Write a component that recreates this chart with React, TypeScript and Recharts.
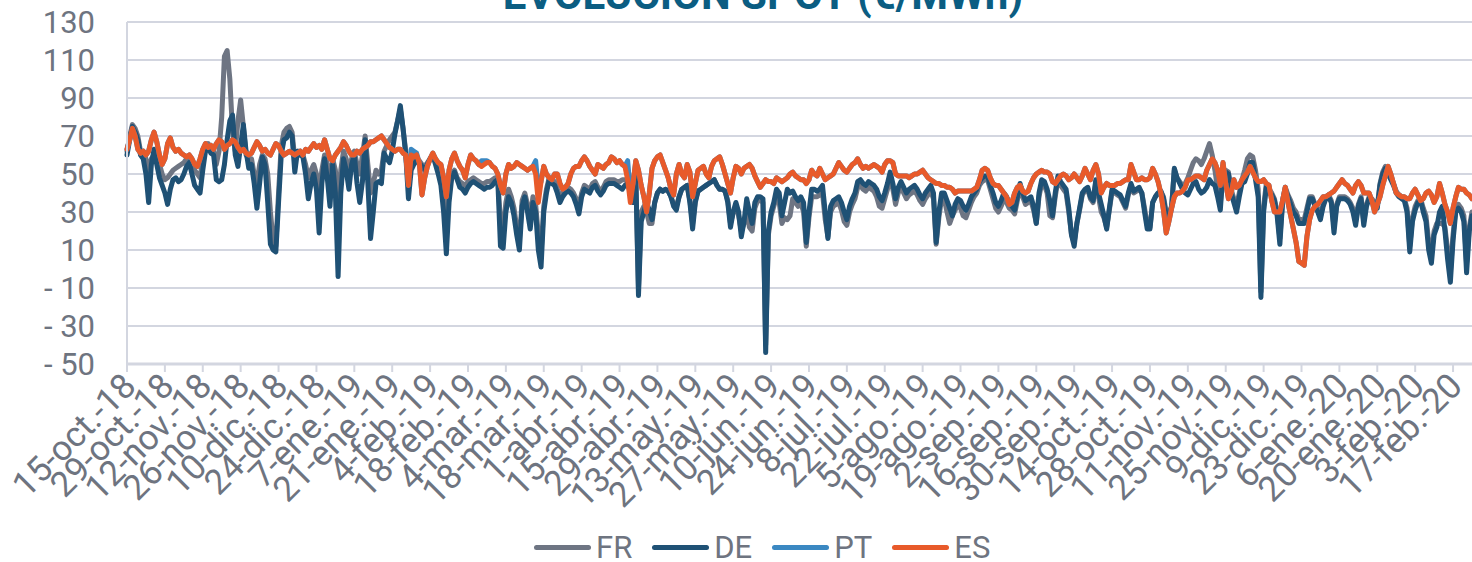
import { LineChart, Line, CartesianGrid, XAxis, YAxis } from 'recharts';

const ES = [
  63, 68, 74, 70, 63, 61, 62, 60, 62, 68,
  72, 67, 60, 55, 58, 66, 69, 64, 62, 63,
  61, 60, 59, 60, 58, 55, 54, 58, 63, 66,
  64, 65, 63, 66, 68, 67, 63, 65, 66, 68,
  67, 64, 62, 63, 61, 60, 61, 64, 67, 65,
  62, 63, 61, 60, 63, 66, 65, 62, 60, 61,
  62, 61, 60, 61, 62, 60, 63, 62, 64, 66,
  64, 65, 63, 68, 63, 58, 57, 60, 62, 64,
  67, 65, 62, 60, 60, 62, 61, 63, 64, 65,
  67, 67, 68, 69, 70, 68, 66, 64, 63, 62,
  63, 63, 61, 60, 44, 60, 59, 60, 56, 39,
  48, 54, 58, 61, 58, 56, 55, 48, 38, 52,
  58, 61, 57, 54, 52, 48, 55, 60, 58, 57,
  55, 54, 55, 56, 56, 54, 53, 50, 44, 40,
  50, 55, 53, 54, 56, 55, 54, 53, 52, 53,
  54, 50, 35, 46, 54, 50, 48, 47, 50, 50,
  45, 42, 43, 45, 50, 53, 54, 54, 57, 59,
  57, 54, 52, 50, 55, 54, 53, 55, 56, 59,
  58, 56, 57, 55, 54, 47, 35, 45, 57, 52,
  44, 38, 30, 40, 53, 57, 59, 60, 56, 52,
  48, 42, 39, 50, 55, 50, 48, 55, 51, 38,
  45, 52, 53, 54, 50, 48, 54, 57, 58, 59,
  55, 50, 45, 40, 48, 54, 53, 50, 53, 54,
  55, 53, 49, 46, 43, 45, 47, 46, 46, 45,
  48, 47, 46, 47, 48, 50, 51, 49, 48, 47,
  47, 45, 47, 52, 50, 49, 53, 50, 47, 48,
  49, 50, 53, 56, 54, 52, 51, 53, 55, 56,
  58, 55, 53, 54, 53, 54, 55, 54, 53, 51,
  55, 57, 57, 56, 50, 49, 49, 49, 49, 48,
  49, 50, 50, 51, 52, 50, 48, 47, 46, 45,
  45, 44, 44, 43, 43, 42, 40, 41, 41, 41,
  41, 41, 41, 42, 43, 47, 52, 53, 52, 48,
  45, 44, 44, 42, 40, 38, 34, 35, 40, 43,
  44, 41, 40, 41, 45, 48, 50, 51, 52, 51,
  51, 50, 46, 45, 47, 49, 50, 49, 47, 48,
  50, 48, 46, 49, 53, 50, 47, 52, 55, 50,
  40, 43, 45, 44, 44, 44, 45, 45, 46, 47,
  47, 55, 51, 47, 47, 48, 47, 47, 48, 53,
  50, 46, 40, 31, 19, 25, 32, 38, 40, 40,
  41, 43, 47, 47, 48, 49, 49, 48, 47, 52,
  55, 58, 56, 52, 44, 56, 45, 37, 40, 47,
  43, 44, 47, 49, 51, 54, 51, 48, 46, 46,
  47, 45, 44, 36, 30, 30, 30, 36, 43, 35,
  28, 21, 14, 4, 3, 2, 17, 26, 31, 33,
  34, 36, 38, 38, 39, 40, 41, 43, 45, 47,
  45, 44, 42, 40, 44, 46, 44, 40, 40, 40,
  36, 30, 34, 38, 44, 49, 54, 50, 45, 40,
  39, 38, 38, 37, 37, 40, 42, 39, 36, 37,
  40, 41, 39, 35, 38, 45, 40, 34, 30, 24,
  32, 38, 43, 42, 42, 40, 39, 37,
];

const PT = [
  63, 68, 74, 70, 63, 61, 62, 60, 62, 68,
  72, 67, 60, 55, 58, 66, 69, 64, 62, 63,
  61, 60, 59, 60, 58, 55, 54, 58, 63, 66,
  64, 65, 63, 66, 68, 67, 63, 65, 66, 68,
  67, 64, 62, 63, 61, 60, 61, 64, 67, 65,
  62, 63, 61, 60, 63, 66, 65, 62, 60, 61,
  62, 61, 60, 61, 62, 60, 63, 62, 64, 66,
  64, 65, 63, 68, 63, 58, 57, 60, 62, 64,
  67, 65, 62, 60, 60, 62, 61, 63, 64, 65,
  67, 67, 68, 69, 70, 68, 66, 64, 63, 62,
  63, 63, 61, 60, 44, 63, 62, 61, 56, 39,
  48, 54, 58, 61, 58, 56, 55, 48, 38, 52,
  58, 61, 57, 54, 52, 48, 55, 60, 58, 57,
  55, 57, 57, 57, 56, 54, 53, 50, 44, 40,
  50, 55, 53, 54, 56, 55, 54, 53, 52, 53,
  54, 57, 42, 46, 54, 50, 48, 47, 50, 50,
  45, 42, 43, 45, 50, 53, 54, 54, 57, 59,
  57, 54, 52, 50, 55, 54, 53, 55, 56, 59,
  58, 56, 57, 55, 54, 57, 40, 45, 57, 52,
  44, 38, 30, 40, 53, 57, 59, 60, 56, 52,
  48, 42, 39, 50, 55, 50, 48, 55, 51, 38,
  45, 52, 53, 54, 50, 48, 54, 57, 58, 59,
  55, 50, 45, 40, 48, 54, 53, 50, 53, 54,
  55, 53, 49, 46, 43, 45, 47, 46, 46, 45,
  48, 47, 46, 47, 48, 50, 51, 49, 48, 47,
  47, 45, 47, 52, 50, 49, 53, 50, 47, 48,
  49, 50, 53, 56, 54, 52, 51, 53, 55, 56,
  58, 55, 53, 54, 53, 54, 55, 54, 53, 51,
  55, 57, 57, 56, 50, 49, 49, 49, 49, 48,
  49, 50, 50, 51, 52, 50, 48, 47, 46, 45,
  45, 44, 44, 43, 43, 42, 40, 41, 41, 41,
  41, 41, 41, 42, 43, 47, 52, 53, 52, 48,
  45, 44, 44, 42, 40, 38, 34, 35, 40, 43,
  44, 41, 40, 41, 45, 48, 50, 51, 52, 51,
  51, 50, 46, 45, 47, 49, 50, 49, 47, 48,
  50, 48, 46, 49, 53, 50, 47, 52, 55, 50,
  40, 43, 45, 44, 44, 44, 45, 45, 46, 47,
  47, 55, 51, 47, 47, 48, 47, 47, 48, 53,
  50, 46, 40, 31, 19, 25, 32, 38, 40, 40,
  41, 43, 47, 47, 48, 49, 49, 48, 47, 52,
  55, 58, 56, 52, 44, 56, 45, 37, 40, 47,
  43, 44, 47, 49, 51, 54, 51, 48, 46, 46,
  47, 45, 44, 36, 30, 30, 30, 36, 43, 35,
  28, 21, 14, 4, 3, 2, 17, 26, 31, 33,
  34, 36, 38, 38, 39, 40, 41, 43, 45, 47,
  45, 44, 42, 40, 44, 46, 44, 40, 40, 40,
  36, 30, 34, 38, 44, 49, 54, 50, 45, 40,
  39, 38, 38, 37, 37, 40, 42, 39, 36, 37,
  40, 41, 39, 35, 38, 45, 40, 34, 30, 24,
  32, 38, 43, 42, 42, 40, 39, 37,
];

const DE = [
  60, 68, 75, 72, 68, 60, 58, 50, 35, 55,
  63, 55, 48, 44, 40, 34, 42, 47, 48, 46,
  47, 50, 54, 56, 50, 44, 42, 40, 52, 62,
  64, 61, 60, 47, 46, 47, 55, 68, 78, 81,
  60, 54, 65, 76, 62, 53, 55, 45, 32, 45,
  59, 55, 35, 13, 10, 9, 35, 60, 68, 69,
  72, 70, 51, 62, 60, 59, 50, 37, 45, 50,
  42, 19, 45, 58, 48, 33, 55, 40, -4, 40,
  58, 52, 42, 55, 60, 45, 35, 46, 68, 45,
  16, 30, 45, 46, 45, 61, 58, 56, 62, 71,
  78, 86, 74, 60, 37, 52, 55, 57, 56, 54,
  52, 55, 58, 60, 55, 50, 44, 30, 8, 35,
  48, 51, 47, 43, 42, 40, 43, 45, 46, 45,
  44, 43, 42, 43, 43, 44, 46, 47, 12, 11,
  30, 38, 35, 28, 18, 10, 33, 38, 30, 21,
  35, 30, 10, 1, 30, 40, 47, 45, 44, 40,
  35, 38, 40, 41, 40, 38, 34, 29, 38, 42,
  41, 40, 43, 44, 41, 39, 41, 44, 45, 45,
  45, 44, 43, 42, 44, 45, 40, 35, 50, -14,
  25, 30, 35, 31, 26, 35, 40, 42, 41, 42,
  41, 38, 33, 31, 38, 42, 43, 44, 35, 21,
  35, 41, 42, 43, 44, 45, 46, 47, 44, 42,
  42, 41, 35, 22, 30, 35, 30, 17, 25, 37,
  30, 24, 35, 38, 38, 37, -44, 20, 30, 35,
  42, 40, 28, 35, 42, 40, 41, 38, 36, 38,
  35, 14, 30, 42, 42, 41, 42, 44, 30, 16,
  33, 36, 37, 38, 35, 30, 26, 33, 37, 40,
  46, 47, 45, 44, 46, 45, 44, 42, 38, 36,
  40, 45, 51, 45, 37, 43, 46, 43, 40, 42,
  43, 44, 42, 39, 37, 40, 42, 44, 40, 14,
  30, 40, 40, 36, 32, 28, 34, 37, 36, 33,
  31, 34, 38, 40, 42, 46, 48, 49, 49, 44,
  40, 35, 33, 36, 40, 38, 35, 33, 31, 38,
  45, 40, 36, 37, 38, 33, 24, 40, 47, 46,
  42, 36, 28, 40, 49, 46, 44, 42, 32, 18,
  12, 24, 32, 40, 42, 43, 38, 36, 47, 40,
  34, 28, 21, 32, 42, 41, 40, 39, 36, 33,
  40, 45, 41, 42, 43, 40, 30, 21, 21, 35,
  38, 40, 41, 37, 28, 28, 32, 53, 48, 45,
  42, 40, 39, 42, 45, 46, 42, 40, 41, 43,
  47, 45, 44, 38, 31, 51, 51, 50, 40, 35,
  30, 38, 45, 46, 50, 56, 56, 47, 38, -15,
  30, 43, 40, 39, 36, 28, 13, 35, 42, 38,
  34, 30, 28, 24, 24, 24, 30, 37, 37, 33,
  30, 26, 33, 37, 38, 35, 19, 33, 37, 37,
  37, 36, 34, 30, 23, 33, 37, 23, 33, 37,
  36, 34, 32, 44, 50, 53, 50, 47, 44, 40,
  38, 37, 36, 30, 9, 25, 31, 35, 36, 30,
  25, 10, 3, 18, 22, 30, 33, 20, 5, -7,
  15, 30, 32, 30, 25, -2, 20, 28,
];

const FR = [
  62, 70, 76, 74, 70, 62, 62, 58, 52, 58,
  60, 58, 55, 50, 47, 48, 50, 52, 53, 54,
  55, 56, 58, 58, 55, 52, 50, 48, 58, 64,
  66, 64, 62, 55, 62, 80, 112, 115, 100, 72,
  62, 78, 89, 75, 60, 58, 58, 50, 45, 55,
  60, 58, 50, 30, 15, 12, 40, 65, 72, 74,
  75, 72, 58, 62, 62, 60, 55, 48, 52, 55,
  50, 40, 52, 60, 55, 45, 58, 52, 35, 52,
  62, 58, 50, 58, 62, 55, 50, 60, 70, 55,
  40, 45, 52, 50, 52, 62, 65, 68, 70, 72,
  78, 84, 74, 62, 45, 55, 57, 58, 57, 55,
  54, 56, 58, 60, 57, 52, 47, 38, 20, 40,
  50, 52, 48, 46, 45, 44, 46, 47, 48, 47,
  46, 45, 45, 46, 46, 47, 48, 48, 25, 20,
  35, 42, 38, 32, 22, 15, 36, 40, 34, 26,
  38, 34, 18, 8, 33, 42, 48, 47, 46, 42,
  38, 40, 42, 43, 42, 40, 37, 33, 40, 44,
  43, 42, 45, 46, 43, 41, 43, 46, 47, 47,
  47, 46, 46, 47, 47, 46, 42, 38, 48, -10,
  30, 33, 30, 24, 24, 35, 40, 42, 41, 42,
  41, 38, 34, 33, 38, 42, 43, 44, 36, 24,
  36, 41, 42, 43, 44, 45, 46, 47, 44, 42,
  42, 41, 36, 24, 30, 33, 28, 20, 24, 30,
  22, 20, 32, 36, 36, 35, -40, 18, 28, 33,
  38, 35, 24, 27, 26, 28, 37, 35, 33, 35,
  30, 12, 27, 38, 38, 38, 39, 40, 26, 17,
  30, 33, 34, 35, 31, 25, 23, 30, 34, 37,
  43, 44, 42, 41, 43, 42, 41, 38, 33, 32,
  37, 42, 48, 42, 34, 40, 43, 40, 37, 39,
  40, 41, 39, 36, 34, 37, 39, 41, 37, 13,
  27, 37, 37, 30, 24, 28, 31, 34, 32, 28,
  27, 31, 35, 38, 40, 44, 46, 47, 47, 42,
  37, 32, 30, 33, 37, 35, 32, 31, 29, 36,
  43, 38, 34, 35, 36, 31, 24, 38, 45, 44,
  40, 28, 27, 38, 47, 44, 42, 40, 30, 18,
  14, 24, 31, 39, 41, 42, 37, 35, 46, 38,
  30, 27, 22, 31, 41, 40, 39, 38, 35, 32,
  39, 44, 40, 41, 42, 40, 32, 23, 22, 35,
  38, 40, 41, 38, 30, 30, 33, 52, 48, 46,
  44, 45, 48, 52, 56, 58, 57, 55, 58, 62,
  66, 60, 52, 42, 34, 52, 52, 51, 42, 37,
  33, 40, 47, 52, 58, 60, 59, 52, 42, -12,
  33, 45, 42, 40, 37, 30, 16, 36, 43, 39,
  36, 32, 30, 26, 26, 26, 32, 38, 38, 34,
  32, 28, 34, 38, 39, 36, 22, 34, 38, 38,
  38, 37, 35, 32, 25, 34, 38, 25, 34, 38,
  37, 35, 33, 45, 51, 54, 51, 48, 45, 41,
  39, 38, 37, 32, 12, 27, 33, 36, 37, 32,
  28, 14, 8, 20, 24, 24, 24, 22, 10, -2,
  18, 32, 34, 32, 28, 3, 22, 30,
];

const MESES = ['ene', 'feb', 'mar', 'abr', 'may', 'jun', 'jul', 'ago', 'sep', 'oct', 'nov', 'dic'];
const Y_TICKS = [-50, -30, -10, 10, 30, 50, 70, 90, 110, 130];

const SERIES = [
  { key: 'FR', color: '#6e7583' },
  { key: 'DE', color: '#1f5175' },
  { key: 'PT', color: '#3b88c2' },
  { key: 'ES', color: '#e85a2a' },
];

const START = Date.UTC(2018, 9, 15);
const fecha = (i: number) => {
  const d = new Date(START + i * 86400000);
  return `${d.getUTCDate()}-${MESES[d.getUTCMonth()]}.-${String(d.getUTCFullYear()).slice(2)}`;
};

const data = ES.map((v, i) => ({ date: fecha(i), FR: FR[i], DE: DE[i], PT: PT[i], ES: v }));

const FONT = 'Roboto, sans-serif';
const TEXT = '#6e7480';
const GRID = '#d3d6e0';

const YTick = ({ y, payload }: any) => (
  <text x={95} y={y} dy="0.36em" textAnchor="end" fill={TEXT} fontFamily={FONT} fontSize={31}>
    {payload.value < 0 ? `- ${Math.abs(payload.value)}` : payload.value}
  </text>
);

const XTick = ({ x, y, payload }: any) => (
  <g transform={`translate(${x + 11},${y + 14})`}>
    <text x={0} y={0} textAnchor="end" transform="rotate(-45)" fill={TEXT} fontFamily={FONT} fontSize={35}>
      {payload.value}
    </text>
  </g>
);

export default function App() {
  return (
    <div style={{ position: 'fixed', left: 0, top: 0, width: 1472, height: 562, overflow: 'hidden', background: '#fff' }}>
      <div
        style={{
          position: 'absolute', left: 263, width: 1000, top: -30, textAlign: 'center',
          fontFamily: FONT, fontWeight: 700, fontSize: 42, color: '#0b5d82', whiteSpace: 'nowrap',
        }}
      >
        EVOLUCIÓN SPOT (€/MWh)
      </div>
      <LineChart width={1472} height={562} data={data} margin={{ top: 22, right: 0, bottom: 0, left: 0 }}>
        <CartesianGrid vertical={false} stroke={GRID} strokeWidth={2} />
        <XAxis
          dataKey="date"
          interval={13}
          height={198}
          tick={<XTick />}
          tickSize={8}
          tickLine={{ stroke: GRID, strokeWidth: 2 }}
          axisLine={{ stroke: GRID, strokeWidth: 3 }}
        />
        <YAxis
          width={127}
          domain={[-50, 130]}
          ticks={Y_TICKS}
          tick={<YTick />}
          tickLine={false}
          axisLine={{ stroke: GRID, strokeWidth: 2 }}
        />
        {SERIES.map((s) => (
          <Line
            key={s.key}
            dataKey={s.key}
            stroke={s.color}
            strokeWidth={5}
            strokeLinejoin="round"
            strokeLinecap="round"
            dot={false}
            type="linear"
            isAnimationActive={false}
          />
        ))}
      </LineChart>
      <div
        style={{
          position: 'absolute', left: 534, top: 533, display: 'flex', alignItems: 'center',
          fontFamily: FONT, fontSize: 31, color: TEXT, lineHeight: '29px',
        }}
      >
        {SERIES.map((s) => (
          <div key={s.key} style={{ display: 'flex', alignItems: 'center', marginRight: 20 }}>
            <span style={{ width: 57, height: 5, borderRadius: 3, background: s.color, marginRight: 5 }} />
            <span>{s.key}</span>
          </div>
        ))}
      </div>
    </div>
  );
}
